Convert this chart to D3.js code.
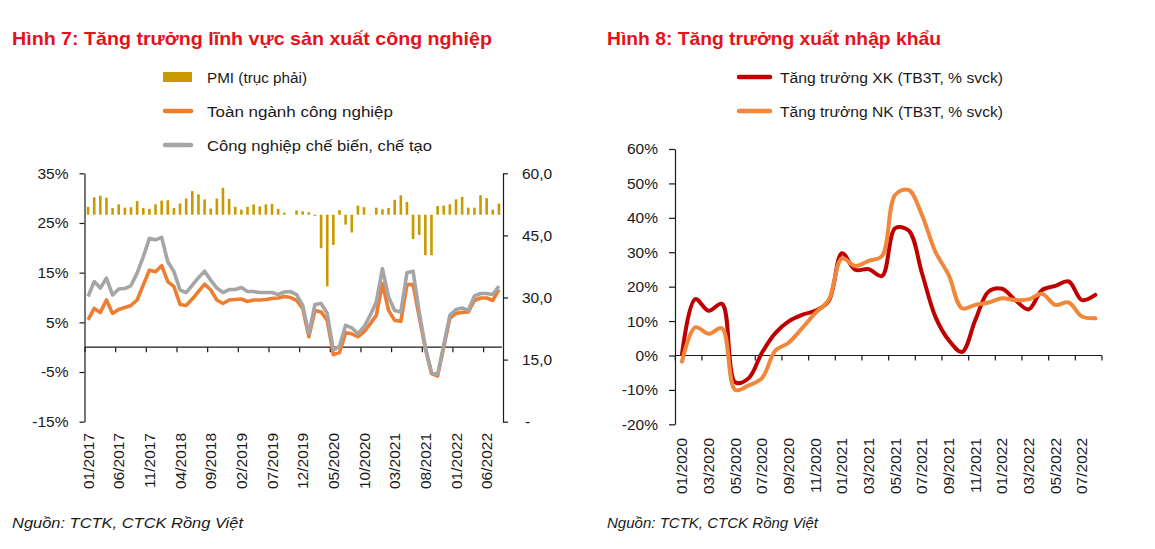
<!DOCTYPE html>
<html><head><meta charset="utf-8">
<script src="https://cdn.jsdelivr.net/npm/d3@7"></script>
<style>
body{margin:0;background:#fff;}
svg{display:block;background:#fff;}
text{font-family:"Liberation Sans", Arial, sans-serif; fill:#1a1a1a;}
</style></head>
<body><svg id="c" width="1155" height="549"></svg>
<script>
// ---------- Chart 1 data (Hình 7) ----------
const months1 = [
 "01/2017","02/2017","03/2017","04/2017","05/2017","06/2017","07/2017","08/2017","09/2017","10/2017","11/2017","12/2017",
 "01/2018","02/2018","03/2018","04/2018","05/2018","06/2018","07/2018","08/2018","09/2018","10/2018","11/2018","12/2018",
 "01/2019","02/2019","03/2019","04/2019","05/2019","06/2019","07/2019","08/2019","09/2019","10/2019","11/2019","12/2019",
 "01/2020","02/2020","03/2020","04/2020","05/2020","06/2020","07/2020","08/2020","09/2020","10/2020","11/2020","12/2020",
 "01/2021","02/2021","03/2021","04/2021","05/2021","06/2021","07/2021","08/2021","09/2021","10/2021","11/2021","12/2021",
 "01/2022","02/2022","03/2022","04/2022","05/2022","06/2022","07/2022","08/2022"];
const pmi = [
 51.9,54.2,54.6,54.1,51.6,52.5,51.7,51.8,53.3,51.6,51.4,52.5,
 53.4,53.5,51.6,52.7,53.9,55.7,54.9,53.7,51.5,53.9,56.5,53.8,
 51.9,51.2,51.9,52.5,52.0,52.5,52.6,51.4,50.5,50.0,51.0,50.8,
 50.6,49.7,41.9,32.7,42.7,51.1,47.6,45.7,52.2,51.8,49.9,51.7,
 51.3,51.6,53.6,54.7,53.1,44.1,45.1,40.2,40.2,52.1,52.2,52.5,
 53.7,54.3,51.7,51.7,54.7,54.0,51.2,52.7];
const iipTotal = [
 5.5,7.8,7.0,9.5,6.8,7.6,8.0,8.4,9.5,12.5,15.5,15.2,
 16.4,13.2,12.2,8.6,8.4,9.7,11.2,12.7,11.5,9.5,8.8,9.5,
 9.6,9.7,9.2,9.5,9.5,9.6,9.8,9.9,10.2,10.0,9.4,7.8,
 2.1,7.4,7.1,5.4,-1.5,-1.1,2.9,2.7,2.1,3.1,4.7,6.4,
 12.8,7.4,5.4,5.2,12.6,12.6,6.1,-0.3,-5.3,-5.8,0.0,5.8,
 6.8,7.0,7.1,9.4,9.9,9.9,9.4,11.6];
const iipMfg = [
 10.2,13.2,11.9,13.9,10.5,11.7,11.8,12.4,14.9,18.2,21.9,21.6,
 22.1,17.2,15.2,11.5,11.0,12.5,14.0,15.3,13.5,11.9,11.0,11.6,
 11.6,12.0,11.2,11.2,11.0,11.0,11.0,10.6,11.1,11.2,10.6,8.4,
 2.7,8.6,8.8,6.8,-0.6,0.2,4.4,3.9,2.7,4.1,6.4,9.1,
 15.8,10.1,7.4,7.1,15.0,15.3,7.1,0.0,-5.1,-5.5,0.4,6.4,
 7.6,7.9,7.4,10.3,10.8,10.8,10.6,12.3];
const chart1XLabels = ["01/2017","06/2017","11/2017","04/2018","09/2018","02/2019","07/2019","12/2019","05/2020","10/2020","03/2021","08/2021","01/2022","06/2022"];
const chart1LeftTicks = [-15,-5,5,15,25,35];
const chart1RightTicks = [0,15,30,45,60];

// ---------- Chart 2 data (Hình 8) ----------
const months2 = [
 "01/2020","02/2020","03/2020","04/2020","05/2020","06/2020","07/2020","08/2020","09/2020","10/2020","11/2020","12/2020",
 "01/2021","02/2021","03/2021","04/2021","05/2021","06/2021","07/2021","08/2021","09/2021","10/2021","11/2021","12/2021",
 "01/2022","02/2022","03/2022","04/2022","05/2022","06/2022","07/2022","08/2022"];
const exportGrowth = [
 0.3,16.4,13.0,15.0,-7.8,-6.6,0.8,6.5,9.9,11.8,13.0,15.8,
 29.7,24.9,25.1,23.1,37.0,36.3,23.9,11.3,4.5,1.0,10.3,18.6,
 19.4,16.1,13.4,19.0,20.2,21.5,16.1,17.6];
const importGrowth = [
 -1.8,8.2,6.3,7.9,-10.0,-8.7,-6.6,1.4,3.7,7.9,12.3,16.1,
 28.2,26.0,27.5,28.9,46.7,48.1,40.8,30.2,23.4,13.7,14.7,15.4,
 16.6,16.1,16.3,17.9,14.7,15.4,11.3,10.8];
const chart2XLabels = ["01/2020","03/2020","05/2020","07/2020","09/2020","11/2020","01/2021","03/2021","05/2021","07/2021","09/2021","11/2021","01/2022","03/2022","05/2022","07/2022"];
const chart2YTicks = [-20,-10,0,10,20,30,40,50,60];

const C = {gold:"#C99A00", orange:"#ED7D31", gray:"#A5A5A5", red:"#C00000", orange2:"#F0873A", title:"#E8101A", axis:"#1a1a1a"};

const svg = d3.select("#c");

// ---------------- Chart 1 ----------------
const g1 = svg.append("g");
const x1 = d3.scaleBand().domain(months1).range([85, 502]).padding(0);
const bw1 = x1.bandwidth();
const yL = d3.scaleLinear().domain([-15, 35]).range([421.7, 173.3]);
const yR = d3.scaleLinear().domain([0, 60]).range([421.7, 173.3]);

// PMI bars around 50
g1.append("g").selectAll("rect").data(pmi).join("rect")
  .attr("x", (d,i) => x1(months1[i]) + bw1/2 - 1.3)
  .attr("width", 2.6)
  .attr("y", d => yR(Math.max(d, 50)))
  .attr("height", d => Math.abs(yR(d) - yR(50)))
  .attr("fill", C.gold);

// category axis line at 0%
g1.append("line").attr("x1", 85).attr("x2", 502).attr("y1", yL(0)).attr("y2", yL(0))
  .attr("stroke", C.axis).attr("stroke-width", 1.2);
g1.append("g").selectAll("line").data(d3.range(0, months1.length, 5)).join("line")
  .attr("x1", i => x1(months1[i])).attr("x2", i => x1(months1[i]))
  .attr("y1", yL(0)).attr("y2", yL(0) + 5)
  .attr("stroke", C.axis).attr("stroke-width", 1.2);

const line1 = d3.line().x((d,i) => x1(months1[i]) + bw1/2).y(d => yL(d));
g1.append("path").datum(iipTotal).attr("d", line1).attr("fill","none")
  .attr("stroke", C.orange).attr("stroke-width", 3.6).attr("stroke-linejoin","round");
g1.append("path").datum(iipMfg).attr("d", line1).attr("fill","none")
  .attr("stroke", C.gray).attr("stroke-width", 3.6).attr("stroke-linejoin","round");

// axes
const axL = g1.append("g").attr("transform","translate(84.5,0)")
  .call(d3.axisLeft(yL).tickValues(chart1LeftTicks).tickSize(5).tickSizeOuter(0).tickPadding(11).tickFormat(d => d + "%"));
const axR = g1.append("g").attr("transform","translate(503,0)")
  .call(d3.axisRight(yR).tickValues(chart1RightTicks).tickSize(5).tickSizeOuter(0).tickPadding(14)
    .tickFormat(d => d === 0 ? "-" : d.toFixed(1).replace(".", ",")));
[axL, axR].forEach(a => {
  a.selectAll("path,line").attr("stroke", C.axis).attr("stroke-width", 1.2);
  a.selectAll("text").attr("font-size", "15.5px").attr("font-family", '"Liberation Sans", Arial, sans-serif').attr("fill", "#1a1a1a");
});
axR.selectAll(".tick text").filter(d => d === 0).attr("dx", 3);

g1.append("g").selectAll("text").data(chart1XLabels).join("text")
  .attr("transform", d => `translate(${x1(d) + bw1/2},433) rotate(-90)`)
  .attr("text-anchor","end").attr("dominant-baseline","central")
  .attr("font-size","15.5px").text(d => d);

// title & legend
g1.append("text").attr("x", 12).attr("y", 45).attr("font-size","19px").attr("font-weight","bold")
  .attr("textLength", 480).attr("lengthAdjust","spacingAndGlyphs")
  .style("fill", C.title).text("Hình 7: Tăng trưởng lĩnh vực sản xuất công nghiệp");

const leg1 = [
  {t:"PMI (trục phải)", c:C.gold, type:"rect", y:77, w:100},
  {t:"Toàn ngành công nghiệp", c:C.orange, type:"line", y:111, w:186},
  {t:"Công nghiệp chế biến, chế tạo", c:C.gray, type:"line", y:145, w:225}];
leg1.forEach(l => {
  if (l.type === "rect") g1.append("rect").attr("x",163).attr("y",l.y-5).attr("width",29).attr("height",10).attr("fill",l.c);
  else g1.append("line").attr("x1",165).attr("x2",191).attr("y1",l.y).attr("y2",l.y).attr("stroke",l.c).attr("stroke-width",4.5).attr("stroke-linecap","round");
  g1.append("text").attr("x",207).attr("y",l.y).attr("dominant-baseline","central").attr("font-size","15.5px")
    .attr("textLength", l.w).attr("lengthAdjust","spacingAndGlyphs").text(l.t);
});
g1.append("text").attr("x",12).attr("y",522).attr("dominant-baseline","central").attr("font-size","15px")
  .attr("font-style","italic").attr("textLength",231).attr("lengthAdjust","spacingAndGlyphs").text("Nguồn:  TCTK, CTCK Rồng Việt");

// ---------------- Chart 2 ----------------
const g2 = svg.append("g");
const x2 = d3.scaleBand().domain(months2).range([675.3, 1102]).padding(0);
const bw2 = x2.bandwidth();
const y2 = d3.scaleLinear().domain([-20, 60]).range([424.3, 149]);

g2.append("line").attr("x1", 675.3).attr("x2", 1102).attr("y1", y2(0)).attr("y2", y2(0))
  .attr("stroke", C.axis).attr("stroke-width", 1.2);
g2.append("g").selectAll("line").data(d3.range(0, months2.length + 1, 2)).join("line")
  .attr("x1", i => i < months2.length ? x2(months2[i]) : 1102)
  .attr("x2", i => i < months2.length ? x2(months2[i]) : 1102)
  .attr("y1", y2(0)).attr("y2", y2(0) + 5)
  .attr("stroke", C.axis).attr("stroke-width", 1.2);

const line2 = d3.line().x((d,i) => x2(months2[i]) + bw2/2).y(d => y2(d)).curve(d3.curveCatmullRom.alpha(0.5));
g2.append("path").datum(exportGrowth).attr("d", line2).attr("fill","none")
  .attr("stroke", C.red).attr("stroke-width", 4).attr("stroke-linecap","round");
g2.append("path").datum(importGrowth).attr("d", line2).attr("fill","none")
  .attr("stroke", C.orange2).attr("stroke-width", 4).attr("stroke-linecap","round");

const ax2 = g2.append("g").attr("transform","translate(675,0)")
  .call(d3.axisLeft(y2).tickValues(chart2YTicks).tickSize(6).tickSizeOuter(0).tickPadding(11).tickFormat(d => d + "%"));
ax2.selectAll("path,line").attr("stroke", C.axis).attr("stroke-width", 1.2);
ax2.selectAll("text").attr("font-size","15.5px").attr("font-family",'"Liberation Sans", Arial, sans-serif').attr("fill","#1a1a1a");

g2.append("g").selectAll("text").data(chart2XLabels).join("text")
  .attr("transform", d => `translate(${x2(d) + bw2/2},438) rotate(-90)`)
  .attr("text-anchor","end").attr("dominant-baseline","central")
  .attr("font-size","15.5px").text(d => d);

g2.append("text").attr("x", 607).attr("y", 45).attr("font-size","19px").attr("font-weight","bold")
  .attr("textLength", 334).attr("lengthAdjust","spacingAndGlyphs")
  .style("fill", C.title).text("Hình 8: Tăng trưởng xuất nhập khẩu");

const leg2 = [
  {t:"Tăng trưởng XK (TB3T, % svck)", c:C.red, y:77},
  {t:"Tăng trưởng NK (TB3T, % svck)", c:C.orange2, y:111}];
leg2.forEach(l => {
  g2.append("line").attr("x1",739).attr("x2",770).attr("y1",l.y).attr("y2",l.y).attr("stroke",l.c).attr("stroke-width",4.5).attr("stroke-linecap","round");
  g2.append("text").attr("x",780).attr("y",l.y).attr("dominant-baseline","central").attr("font-size","15.5px")
    .attr("textLength", 223).attr("lengthAdjust","spacingAndGlyphs").text(l.t);
});
g2.append("text").attr("x",607).attr("y",522).attr("dominant-baseline","central").attr("font-size","15px")
  .attr("font-style","italic").attr("textLength",211).attr("lengthAdjust","spacingAndGlyphs").text("Nguồn:  TCTK, CTCK Rồng Việt");
</script>
</body></html>
